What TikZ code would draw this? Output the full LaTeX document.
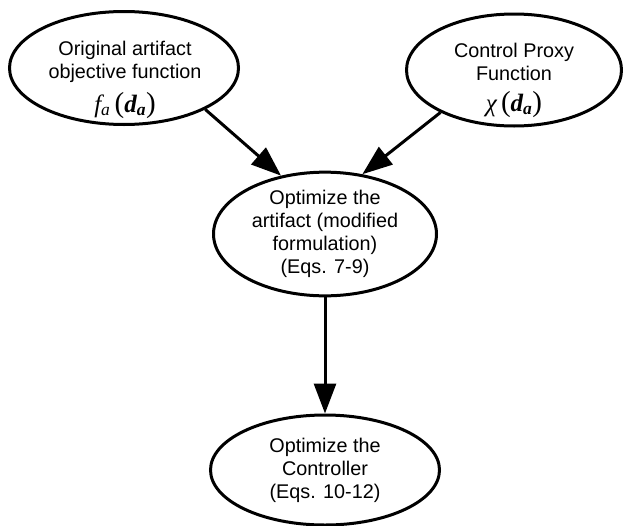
\documentclass[tikz,border=0pt]{standalone}
\usepackage{fontspec}
\setmainfont{Liberation Sans}
\newfontfamily\eqfont{Liberation Serif}
\newcommand{\eqit}[1]{{\eqfont\itshape #1}}
\newcommand{\eqbf}[1]{{\eqfont\bfseries\itshape #1}}
\newcommand{\eqpar}[1]{{\eqfont\fontsize{29}{29}\selectfont #1}}
\usetikzlibrary{shapes.geometric,arrows.meta}

\begin{document}
\begin{tikzpicture}[x=1pt, y=-1pt,
        oval/.style={draw, ellipse, line width=3pt, inner sep=0pt, align=center,
            font=\fontsize{19.8}{23}\selectfont},
        txt/.style={align=center, inner sep=0pt, font=\fontsize{19.8}{23}\selectfont},
        arr/.style={line width=3pt, -{Triangle[length=30pt, width=22pt]}}]
        \useasboundingbox (0, 0) rectangle (623, 525);

        % the two starting functions
        \node [oval, minimum width=229pt, minimum height=113pt] (orig) at (124, 68) {};
        \node [txt] (origtxt) at (125, 80) {Original artifact\\objective function\\[8pt]%
            {\fontsize{25}{25}\selectfont\eqit{f}\textsubscript{\eqit{a}}\,\eqpar{(}\eqbf{d}\textsubscript{\eqbf{a}}\eqpar{)}}};
        \node [oval, minimum width=215pt, minimum height=112pt] (proxy) at (514, 70) {};
        \node [txt] (proxytxt) at (514, 80) {Control Proxy\\Function\\[8pt]%
            {\fontsize{25}{25}\selectfont\eqit{χ}\,\eqpar{(}\eqbf{d}\textsubscript{\eqbf{a}}\eqpar{)}}};

        \node [oval, minimum width=223pt, minimum height=123pt] (optart) at (325, 234)
            {Optimize the\\artifact (modified\\formulation)\\(Eqs. 7-9)};
        \node [oval, minimum width=229pt, minimum height=110pt] (optctrl) at (325, 470)
            {Optimize the\\Controller\\(Eqs. 10-12)};

        \draw [arr] (orig.-27) -- (optart.127);
        \draw [arr] (proxy.-150) -- (optart.58);
        \draw [arr] (optart.south) -- (optctrl.north);
    \end{tikzpicture}
\end{document}
